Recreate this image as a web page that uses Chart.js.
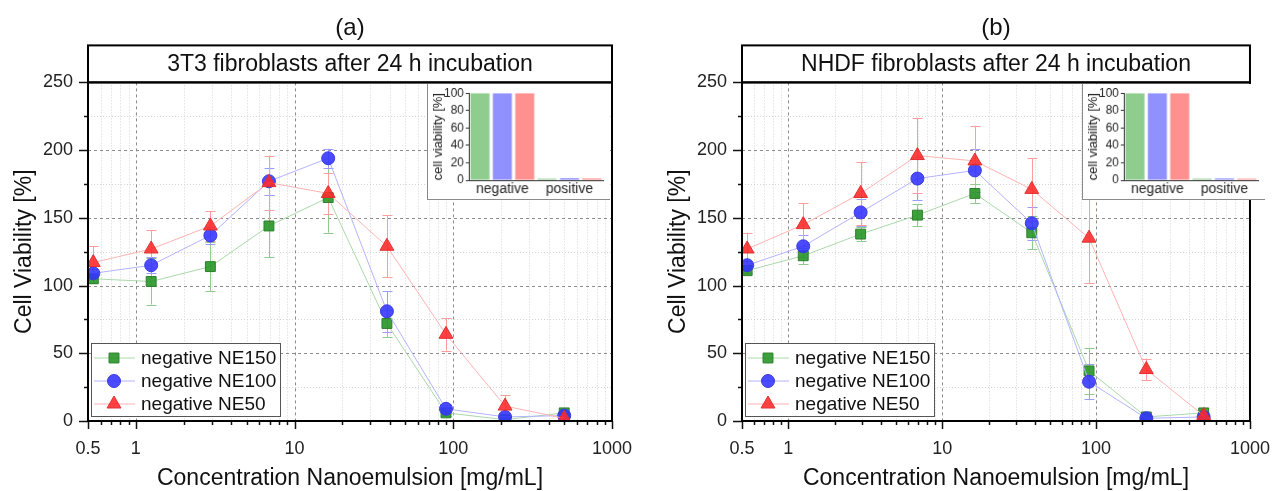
<!DOCTYPE html>
<html>
<head>
<meta charset="utf-8">
<script src="https://cdn.jsdelivr.net/npm/chart.js@4.4.1/dist/chart.umd.min.js"></script>
<style>
body{margin:0;background:#fff;}
#wrap{position:relative;width:1287px;height:491px;overflow:hidden;background:#fff;}
canvas{position:absolute;}
#mainA{left:0;top:0;}
#mainB{left:654px;top:0;}
.inset{top:84px;background:#fff;border-left:1px solid #8a8a8a;border-bottom:1px solid #8a8a8a;}
#insetA{left:427px;}
#insetB{left:1082px;}
</style>
</head>
<body>
<div id="wrap">
  <canvas id="mainA" width="654" height="491"></canvas>
  <canvas id="mainB" width="633" height="491"></canvas>
  <canvas id="insetA" class="inset" width="183" height="116"></canvas>
  <canvas id="insetB" class="inset" width="183" height="116"></canvas>
</div>
<script>
// data
let concentrations=[0.54,1.25,2.95,6.9,16.3,38.2,90,212,500];
let seriesNames=['negative NE150','negative NE100','negative NE50'];

// panel (a) 3T3
let a150=[105,103,114,144,165,72,6,1,6];
let a150err=[3,17,18,23,26,10,2,1,1];
let a100=[109,115,137,177,194,81,9,3,4];
let a100err=[3,6,6,10,7,15,3,1,1];
let a50=[117,127,144,176,168,129,64,11,2];
let a50err=[12,14,11,20,15,23,12,8,1];

// panel (b) NHDF
let b150=[111,122,138,152,168,139,37,3,6];
let b150err=[2,6,5,8,7,12,17,2,1];
let b100=[115,129,154,179,185,146,29,2,3];
let b100err=[3,8,10,16,16,12,13,1,1];
let b50=[127,145,168,196,192,171,135,38,4];
let b50err=[12,16,23,28,26,23,33,8,1];

// inset bars
let insetLabels=['negative','positive'];
let insetA150=[100,1.8];
let insetA100=[100,2.2];
let insetA50=[100,2.0];
let insetB150=[100,1.6];
let insetB100=[100,2.0];
let insetB50=[100,1.8];

let xTickValues=[0.5,1,10,100,1000];
let xTickLabels=['0.5','1','10','100','1000'];
let insetTicks=[0,20,40,60,80,100];

Chart.defaults.font.family="'Liberation Sans', Arial, sans-serif";
Chart.defaults.color='#222';

// styles per series
let markerStyles=[
  {pointStyle:'rect',radius:7,fill:'rgba(40,150,40,0.9)',edge:'#2b7f2b',line:'#a9d9a9',err:'#8fca8f'},
  {pointStyle:'circle',radius:6.5,fill:'rgba(50,50,255,0.88)',edge:'#3a3ae0',line:'#b3b3ff',err:'#9c9cff'},
  {pointStyle:'triangle',radius:8,fill:'rgba(255,40,40,0.88)',edge:'#e03030',line:'#ffb3b3',err:'#ff9c9c'}
];
let insetColors=['#8fcd8f','#9090ff','#ff9090'];

function makeSet(i,vals,errs){
  let s=markerStyles[i];
  return {
    label:seriesNames[i],
    data:concentrations.map(function(c,j){return {x:c,y:vals[j]}}),
    errors:errs,
    errColor:s.err,
    borderColor:s.line,
    borderWidth:1,
    pointStyle:s.pointStyle,
    pointRadius:s.radius,
    pointBackgroundColor:s.fill,
    pointBorderColor:s.edge,
    pointBorderWidth:1,
    order:3-i,
    tension:0
  };
}

// grid lines, ticks, frames, error bars and legend
let decorPlugin={
  id:'decor',
  beforeDatasetsDraw(chart){
    let ctx=chart.ctx, xs=chart.scales.x, ys=chart.scales.y, a=chart.chartArea;
    ctx.save();
    // minor grid
    ctx.strokeStyle='#d4d4d4'; ctx.lineWidth=1; ctx.setLineDash([1,2]);
    let minors=[];
    for(let e=-1;e<3;e++){
      for(let k=2;k<10;k++){
        let v=k*Math.pow(10,e);
        if(v>0.5&&v<1000) minors.push(v);
      }
    }
    minors.forEach(function(v){
      let x=Math.round(xs.getPixelForValue(v))+0.5;
      ctx.beginPath(); ctx.moveTo(x,a.top); ctx.lineTo(x,a.bottom); ctx.stroke();
    });
    for(let v=25;v<250;v+=50){
      let y=Math.round(ys.getPixelForValue(v))+0.5;
      ctx.beginPath(); ctx.moveTo(a.left,y); ctx.lineTo(a.right,y); ctx.stroke();
    }
    // major grid
    ctx.strokeStyle='#8c8c8c'; ctx.setLineDash([3,3]);
    [1,10,100].forEach(function(v){
      let x=Math.round(xs.getPixelForValue(v))+0.5;
      ctx.beginPath(); ctx.moveTo(x,a.top); ctx.lineTo(x,a.bottom); ctx.stroke();
    });
    for(let v=50;v<250;v+=50){
      let y=Math.round(ys.getPixelForValue(v))+0.5;
      ctx.beginPath(); ctx.moveTo(a.left,y); ctx.lineTo(a.right,y); ctx.stroke();
    }
    ctx.setLineDash([]);
    // tick marks
    ctx.strokeStyle='#111'; ctx.lineWidth=1.5;
    xTickValues.concat(minors).forEach(function(v){
      let x=Math.round(xs.getPixelForValue(v))+0.5;
      let len=xTickValues.indexOf(v)>=0?8:4;
      ctx.beginPath(); ctx.moveTo(x,a.bottom); ctx.lineTo(x,a.bottom+len); ctx.stroke();
    });
    for(let v=0;v<=250;v+=25){
      let y=Math.round(ys.getPixelForValue(v))+0.5;
      let len=v%50==0?9:4;
      ctx.beginPath(); ctx.moveTo(a.left,y); ctx.lineTo(a.left-len,y); ctx.stroke();
    }
    // error bars
    ctx.beginPath(); ctx.rect(a.left,a.top,a.right-a.left,a.bottom-a.top); ctx.clip();
    ctx.lineWidth=1;
    chart.data.datasets.forEach(function(ds){
      ctx.strokeStyle=ds.errColor;
      ds.data.forEach(function(p,j){
        let x=Math.round(xs.getPixelForValue(p.x))+0.5;
        let lo=ys.getPixelForValue(p.y-ds.errors[j]);
        let hi=ys.getPixelForValue(p.y+ds.errors[j]);
        ctx.beginPath();
        ctx.moveTo(x,lo); ctx.lineTo(x,hi);
        ctx.moveTo(x-5,Math.round(lo)+0.5); ctx.lineTo(x+5,Math.round(lo)+0.5);
        ctx.moveTo(x-5,Math.round(hi)+0.5); ctx.lineTo(x+5,Math.round(hi)+0.5);
        ctx.stroke();
      });
    });
    ctx.restore();
  },
  afterDatasetsDraw(chart){
    let ctx=chart.ctx, a=chart.chartArea;
    ctx.save();
    // legend box
    let lx=a.left+3, ly=a.bottom-78, lw=189, lh=73;
    ctx.fillStyle='#fff'; ctx.fillRect(lx,ly,lw,lh);
    ctx.strokeStyle='#555'; ctx.lineWidth=1;
    ctx.strokeRect(lx+0.5,ly+0.5,lw,lh);
    chart.data.datasets.forEach(function(ds,i){
      let s=markerStyles[i];
      let y=ly+15+i*23;
      ctx.strokeStyle=ds.borderColor; ctx.lineWidth=1;
      ctx.beginPath(); ctx.moveTo(lx+3,y); ctx.lineTo(lx+44,y); ctx.stroke();
      drawMarker(ctx,s,lx+23,y);
      ctx.fillStyle='#111';
      ctx.font="19px 'Liberation Sans', Arial, sans-serif";
      ctx.textBaseline='middle'; ctx.textAlign='left';
      ctx.fillText(ds.label,lx+50,y+1);
    });
    // frames
    ctx.strokeStyle='#000'; ctx.lineWidth=2;
    ctx.strokeRect(a.left,a.top,a.right-a.left,a.bottom-a.top);
    ctx.strokeRect(a.left,a.top-37,a.right-a.left,37);
    ctx.restore();
  }
};

function drawMarker(ctx,s,x,y){
  let r=s.radius;
  ctx.fillStyle=s.fill; ctx.strokeStyle=s.edge; ctx.lineWidth=1;
  ctx.beginPath();
  if(s.pointStyle=='rect'){
    let h=r*Math.SQRT1_2;
    ctx.rect(x-h,y-h,2*h,2*h);
  }else if(s.pointStyle=='circle'){
    ctx.arc(x,y,r,0,Math.PI*2);
  }else{
    ctx.moveTo(x,y-r);
    ctx.lineTo(x+r*Math.sin(2*Math.PI/3),y-r*Math.cos(2*Math.PI/3));
    ctx.lineTo(x+r*Math.sin(4*Math.PI/3),y-r*Math.cos(4*Math.PI/3));
    ctx.closePath();
  }
  ctx.fill(); ctx.stroke();
}

function mainChart(id,letter,heading,sets){
  return new Chart(document.getElementById(id),{
    type:'line',
    data:{datasets:sets},
    options:{
      responsive:false,
      animation:false,
      layout:{padding:{left:0,right:document.getElementById(id).width-612,top:0,bottom:0}},
      plugins:{
        legend:{display:false},
        tooltip:{enabled:false},
        title:{display:true,text:letter,fullSize:false,color:'#111',
          font:{size:24,weight:'normal'},padding:{top:14,bottom:3}},
        subtitle:{display:true,text:heading,fullSize:false,color:'#111',
          font:{size:23},padding:{top:5,bottom:4}}
      },
      scales:{
        x:{
          type:'logarithmic',min:0.5,max:1000,
          afterBuildTicks:function(scale){scale.ticks=xTickValues.map(function(v){return {value:v}})},
          afterFit:function(scale){scale.height=70},
          ticks:{autoSkip:false,maxRotation:0,padding:17,font:{size:18},color:'#222',
            callback:function(v){let i=xTickValues.indexOf(v);return i>=0?xTickLabels[i]:''}},
          grid:{display:false,drawTicks:false},
          border:{display:false},
          title:{display:true,text:'Concentration Nanoemulsion [mg/mL]',font:{size:23},color:'#111',padding:{top:0,bottom:-1}}
        },
        y:{
          min:0,max:250,
          afterFit:function(scale){scale.width=88},
          ticks:{stepSize:50,padding:15,font:{size:18},color:'#222'},
          grid:{display:false,drawTicks:false},
          border:{display:false},
          title:{display:true,text:'Cell Viability [%]',font:{size:23},color:'#111',padding:{top:11,bottom:0}}
        }
      }
    },
    plugins:[decorPlugin]
  });
}

function insetChart(id,v150,v100,v50){
  return new Chart(document.getElementById(id),{
    type:'bar',
    data:{
      labels:insetLabels,
      datasets:[
        {label:seriesNames[0],data:v150,backgroundColor:insetColors[0]},
        {label:seriesNames[1],data:v100,backgroundColor:insetColors[1]},
        {label:seriesNames[2],data:v50,backgroundColor:insetColors[2]}
      ]
    },
    options:{
      responsive:false,
      animation:false,
      barPercentage:0.85,
      categoryPercentage:1.0,
      layout:{padding:{left:0,right:7,top:9,bottom:0}},
      plugins:{legend:{display:false},tooltip:{enabled:false}},
      scales:{
        x:{
          afterFit:function(scale){scale.height=19},
          ticks:{padding:1,font:{size:14},color:'#222'},
          grid:{display:false,drawTicks:false},
          border:{display:true,color:'#333',width:1}
        },
        y:{
          min:0,max:100,
          afterBuildTicks:function(scale){scale.ticks=insetTicks.map(function(v){return {value:v}})},
          afterFit:function(scale){scale.width=41},
          ticks:{autoSkip:false,padding:2,font:{size:12},color:'#222'},
          grid:{display:true,drawOnChartArea:false,drawTicks:true,tickLength:3,tickColor:'#333'},
          border:{display:true,color:'#333',width:1},
          title:{display:true,text:'cell viability [%]',font:{size:13},color:'#222',padding:{top:3,bottom:0}}
        }
      }
    }
  });
}

window.onload=function(){
  mainChart('mainA','(a)','3T3 fibroblasts after 24 h incubation',
    [makeSet(0,a150,a150err),makeSet(1,a100,a100err),makeSet(2,a50,a50err)]);
  mainChart('mainB','(b)','NHDF fibroblasts after 24 h incubation',
    [makeSet(0,b150,b150err),makeSet(1,b100,b100err),makeSet(2,b50,b50err)]);
  insetChart('insetA',insetA150,insetA100,insetA50);
  insetChart('insetB',insetB150,insetB100,insetB50);
}
</script>
</body>
</html>
